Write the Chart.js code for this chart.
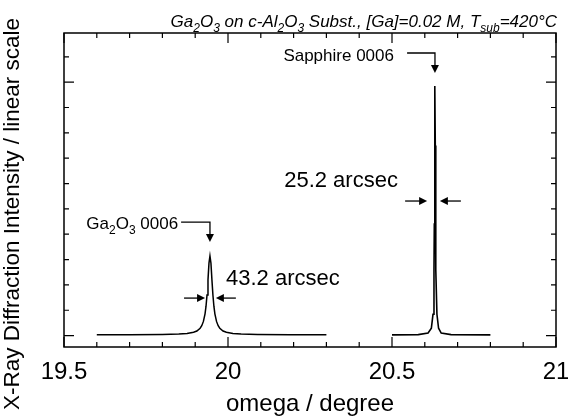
<!DOCTYPE html>
<html>
<head>
<meta charset="utf-8">
<script src="https://cdn.jsdelivr.net/npm/chart.js@4.4.0/dist/chart.umd.min.js"></script>
<style>
  html, body { margin: 0; padding: 0; background: #fff; }
  #wrap { width: 568px; height: 416px; }
</style>
</head>
<body>
<div id="wrap"><canvas id="xrd" width="568" height="416"></canvas></div>
<script>
// omega scans (intensity in arbitrary linear units)
const gaOmega = [19.60, 19.70, 19.80, 19.85, 19.875, 19.895, 19.905, 19.915, 19.92, 19.925, 19.93, 19.933,
                 19.936, 19.939, 19.942, 19.945, 19.948, 19.951, 19.954, 19.957, 19.96, 19.965, 19.97,
                 19.975, 19.985, 19.995, 20.015, 20.04, 20.09, 20.19, 20.30];
const gaIntensity = [0.03, 0.035, 0.045, 0.06, 0.08, 0.13, 0.18, 0.29, 0.39, 0.56, 0.86, 1.16,
                     1.60, 2.20, 2.86, 3.14, 2.86, 2.20, 1.60, 1.16, 0.86, 0.56, 0.39,
                     0.29, 0.18, 0.13, 0.08, 0.06, 0.045, 0.035, 0.03];

const sapOmega = [20.50, 20.58, 20.61, 20.62, 20.625, 20.628, 20.629, 20.630, 20.631,
                  20.632, 20.633, 20.634, 20.637, 20.642, 20.65, 20.68, 20.80];
const sapIntensity = [0.03, 0.04, 0.10, 0.29, 0.84, 2.6, 4.4, 7.5, 9.85,
                      7.5, 4.4, 2.6, 0.84, 0.29, 0.10, 0.04, 0.03];

// tick positions
const xTickLabels = [19.5, 20, 20.5, 21];
const xMinorTicks = [19.6, 19.7, 19.8, 19.9, 20.1, 20.2, 20.3, 20.4, 20.6, 20.7, 20.8, 20.9];
const yMajorTicks = [0, 10];
const yMinorTicks = [1, 2, 3, 4, 5, 6, 7, 8, 9, 11];

const FONT = '"Liberation Sans", Arial, Helvetica, sans-serif';

function toPoints(xs, ys) {
    return xs.map((x, i) => ({ x: x, y: ys[i] }));
}

// text with subscripts, parts = [{t, sub}]
function drawRich(ctx, parts, x, y, size, italic, align) {
    const style = italic ? 'italic ' : '';
    const base = style + size + 'px ' + FONT;
    const sub = style + Math.round(size * 0.72) + 'px ' + FONT;
    let w = 0;
    parts.forEach(p => { ctx.font = p.sub ? sub : base; w += ctx.measureText(p.t).width; });
    let cx = align === 'right' ? x - w : x;
    ctx.textAlign = 'left';
    ctx.textBaseline = 'alphabetic';
    parts.forEach(p => {
        ctx.font = p.sub ? sub : base;
        ctx.fillText(p.t, cx, y + (p.sub ? size * 0.28 : 0));
        cx += ctx.measureText(p.t).width;
    });
}

function arrowHead(ctx, x0, y0, x1, y1, len, half) {
    const ang = Math.atan2(y1 - y0, x1 - x0);
    ctx.beginPath();
    ctx.moveTo(x1, y1);
    ctx.lineTo(x1 - len * Math.cos(ang) + half * Math.sin(ang), y1 - len * Math.sin(ang) - half * Math.cos(ang));
    ctx.lineTo(x1 - len * Math.cos(ang) - half * Math.sin(ang), y1 - len * Math.sin(ang) + half * Math.cos(ang));
    ctx.closePath();
    ctx.fill();
}

// polyline in data coordinates, ending with an arrow head
function drawArrow(ctx, xs, ys, pts) {
    const px = pts.map(p => [xs.getPixelForValue(p[0]), ys.getPixelForValue(p[1])]);
    const n = px.length;
    const ang = Math.atan2(px[n - 1][1] - px[n - 2][1], px[n - 1][0] - px[n - 2][0]);
    ctx.beginPath();
    ctx.moveTo(px[0][0], px[0][1]);
    for (let i = 1; i < n - 1; i++) ctx.lineTo(px[i][0], px[i][1]);
    ctx.lineTo(px[n - 1][0] - 6 * Math.cos(ang), px[n - 1][1] - 6 * Math.sin(ang));
    ctx.stroke();
    arrowHead(ctx, px[n - 2][0], px[n - 2][1], px[n - 1][0], px[n - 1][1], 8, 4);
}

const frameAndLabels = {
    id: 'frameAndLabels',
    afterDraw(chart) {
        const ctx = chart.ctx;
        const a = chart.chartArea;
        const xs = chart.scales.x;
        const ys = chart.scales.y;
        ctx.save();
        ctx.strokeStyle = '#000';
        ctx.fillStyle = '#000';
        ctx.lineWidth = 1.5;
        ctx.strokeRect(a.left, a.top, a.right - a.left, a.bottom - a.top);

        // inward ticks on all four sides
        ctx.lineWidth = 1.2;
        ctx.beginPath();
        const tickX = (v, len) => {
            const p = xs.getPixelForValue(v);
            ctx.moveTo(p, a.bottom); ctx.lineTo(p, a.bottom - len);
            ctx.moveTo(p, a.top); ctx.lineTo(p, a.top + len);
        };
        const tickY = (v, len) => {
            const p = ys.getPixelForValue(v);
            ctx.moveTo(a.left, p); ctx.lineTo(a.left + len, p);
            ctx.moveTo(a.right, p); ctx.lineTo(a.right - len, p);
        };
        xTickLabels.forEach(v => tickX(v, 10));
        xMinorTicks.forEach(v => tickX(v, 5));
        yMajorTicks.forEach(v => tickY(v, 10));
        yMinorTicks.forEach(v => tickY(v, 5));
        ctx.stroke();

        // title
        drawRich(ctx, [
            { t: 'Ga' }, { t: '2', sub: true }, { t: 'O' }, { t: '3', sub: true },
            { t: ' on c-Al' }, { t: '2', sub: true }, { t: 'O' }, { t: '3', sub: true },
            { t: ' Subst., [Ga]=0.02 M, T' }, { t: 'sub', sub: true }, { t: '=420°C' }
        ], a.right + 1, a.top - 6, 17, true, 'right');

        // y axis title
        ctx.save();
        ctx.translate(13, 214);
        ctx.rotate(-Math.PI / 2);
        ctx.font = '22.5px ' + FONT;
        ctx.textAlign = 'center';
        ctx.textBaseline = 'middle';
        ctx.fillText('X-Ray Diffraction Intensity / linear scale', 0, 0);
        ctx.restore();

        // peak labels
        ctx.lineWidth = 1.3;
        drawRich(ctx, [{ t: 'Sapphire 0006' }], xs.getPixelForValue(20.506), ys.getPixelForValue(10.84), 17, false, 'right');
        drawArrow(ctx, xs, ys, [[20.546, 11.15], [20.631, 11.15], [20.631, 10.36]]);

        drawRich(ctx, [{ t: 'Ga' }, { t: '2', sub: true }, { t: 'O' }, { t: '3', sub: true }, { t: ' 0006' }],
            xs.getPixelForValue(19.848), ys.getPixelForValue(4.21), 17, false, 'right');
        drawArrow(ctx, xs, ys, [[19.857, 4.48], [19.945, 4.48], [19.945, 3.69]]);

        // FWHM markers
        drawRich(ctx, [{ t: '25.2 arcsec' }], xs.getPixelForValue(20.518), ys.getPixelForValue(5.86), 22, false, 'right');
        drawArrow(ctx, xs, ys, [[20.540, 5.31], [20.607, 5.31]]);
        drawArrow(ctx, xs, ys, [[20.710, 5.31], [20.646, 5.31]]);

        drawRich(ctx, [{ t: '43.2 arcsec' }], xs.getPixelForValue(19.994), ys.getPixelForValue(2.0), 22, false, 'left');
        drawArrow(ctx, xs, ys, [[19.866, 1.48], [19.930, 1.48]]);
        drawArrow(ctx, xs, ys, [[20.024, 1.48], [19.963, 1.48]]);
        ctx.restore();
    }
};

new Chart(document.getElementById('xrd'), {
    type: 'scatter',
    data: {
        datasets: [{
            label: 'Ga2O3 0006',
            data: toPoints(gaOmega, gaIntensity),
            showLine: true,
            borderColor: '#000',
            borderWidth: 1.5,
            pointRadius: 0,
            tension: 0
        }, {
            label: 'Sapphire 0006',
            data: toPoints(sapOmega, sapIntensity),
            showLine: true,
            borderColor: '#000',
            borderWidth: 1.6,
            pointRadius: 0,
            tension: 0
        }]
    },
    options: {
        responsive: false,
        animation: false,
        devicePixelRatio: 1,
        layout: { padding: { top: 33, right: 12, left: 0, bottom: 0 } },
        plugins: {
            legend: { display: false },
            tooltip: { enabled: false }
        },
        scales: {
            x: {
                type: 'linear',
                min: 19.5,
                max: 21,
                afterFit: s => { s.height = 69; s.paddingLeft = 0; s.paddingRight = 0; },
                afterBuildTicks: s => { s.ticks = xTickLabels.map(v => ({ value: v })); },
                ticks: {
                    color: '#000',
                    font: { family: FONT, size: 24 },
                    padding: 11,
                    maxRotation: 0,
                    callback: v => String(v)
                },
                grid: { display: false, drawTicks: false },
                border: { display: false },
                title: {
                    display: true,
                    text: 'omega / degree',
                    color: '#000',
                    font: { family: FONT, size: 24 },
                    padding: { top: 0, bottom: -3 }
                }
            },
            y: {
                type: 'linear',
                min: -0.45,
                max: 11.94,
                afterFit: s => { s.width = 64; s.paddingTop = 0; s.paddingBottom = 0; },
                ticks: { display: false },
                grid: { display: false, drawTicks: false },
                border: { display: false }
            }
        }
    },
    plugins: [frameAndLabels]
});
</script>
</body>
</html>
